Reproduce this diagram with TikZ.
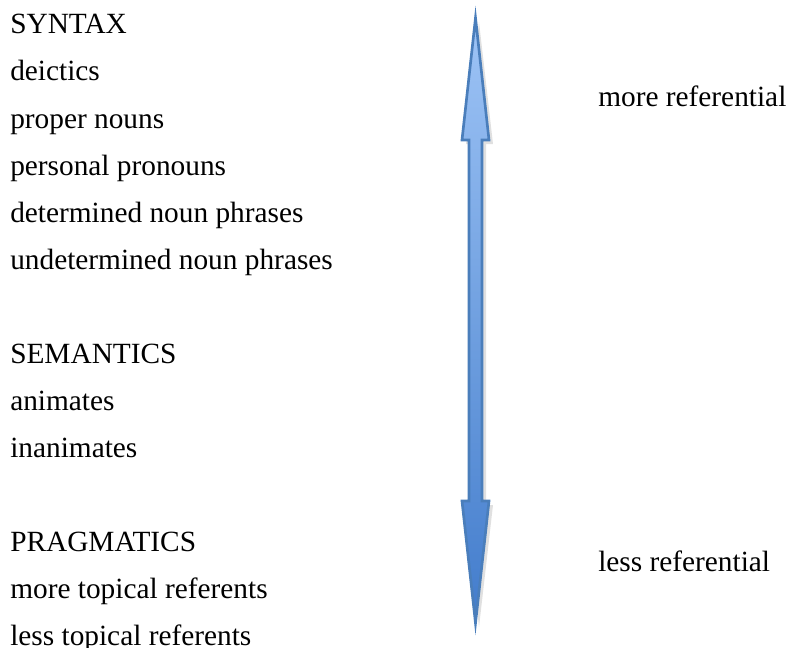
\documentclass[tikz,border=0pt]{standalone}
\usepackage{fontspec}
\setmainfont{Liberation Serif}
\usetikzlibrary{positioning}
\definecolor{arrline}{RGB}{74,126,187}
\definecolor{arrtop}{RGB}{158,196,246}
\definecolor{arrmid}{RGB}{112,160,224}
\definecolor{arrbot}{RGB}{66,124,204}
\tikzset{
  lbl/.style={font=\fontsize{22pt}{26pt}\selectfont, inner sep=0pt,
              text height=16pt, text depth=5pt, anchor=north west},
  rlbl/.style={font=\fontsize{22pt}{26pt}\selectfont, inner sep=0pt,
               anchor=base west},
  bigarrow/.style={draw=arrline, line width=2pt, line join=miter,
                   top color=arrtop, bottom color=arrbot, middle color=arrmid},
  arrshadow/.style={fill=black, opacity=0.12}
}

\begin{document}
\begin{tikzpicture}[x=0.75pt, y=-0.75pt]
  \useasboundingbox (0,0) rectangle (788,647);
  % left column
  \node[lbl] (syn) at (10,12.2) {SYNTAX};
  \node[lbl, below=13.95pt of syn.south west, anchor=north west] (deic) {deictics};
  \node[lbl, below=13.95pt of deic.south west, anchor=north west] (prop) {proper nouns};
  \node[lbl, below=13.95pt of prop.south west, anchor=north west] (pers) {personal pronouns};
  \node[lbl, below=13.95pt of pers.south west, anchor=north west] (det) {determined noun phrases};
  \node[lbl, below=13.95pt of det.south west, anchor=north west] (undet) {undetermined noun phrases};
  \node[lbl, below=48.9pt of undet.south west, anchor=north west] (sem) {SEMANTICS};
  \node[lbl, below=13.95pt of sem.south west, anchor=north west] (anim) {animates};
  \node[lbl, below=13.95pt of anim.south west, anchor=north west] (inan) {inanimates};
  \node[lbl, below=48.9pt of inan.south west, anchor=north west] (prag) {PRAGMATICS};
  \node[lbl, below=13.95pt of prag.south west, anchor=north west] (mtop) {more topical referents};
  \node[lbl, below=13.95pt of mtop.south west, anchor=north west] (ltop) {less topical referents};
  % right column
  \node[rlbl] (moreref) at (598,106) {more referential};
  \node[rlbl] (lessref) at (598,571) {less referential};
  % double arrow
  \fill[arrshadow] (479,22) -- (493,144) -- (486,144) -- (486,505) -- (493,505)
    -- (479,627) -- (466,505) -- (473,505) -- (473,144) -- (466,144) -- cycle;
  \path[bigarrow] (475.5,18) -- (489,140) -- (482,140) -- (482,501) -- (489,501)
    -- (475.5,623) -- (462,501) -- (469,501) -- (469,140) -- (462,140) -- cycle;
\end{tikzpicture}
\end{document}
